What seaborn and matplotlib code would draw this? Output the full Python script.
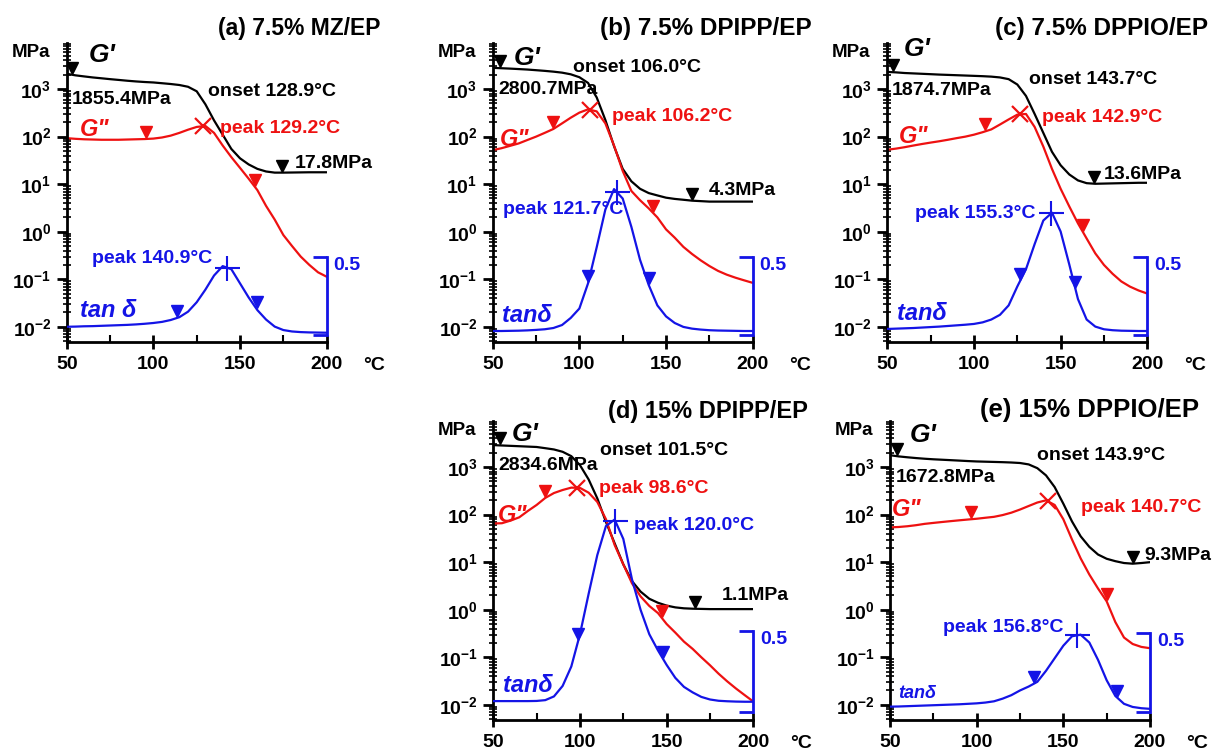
import numpy as np
import matplotlib.pyplot as plt
import seaborn as sns
from matplotlib.ticker import FixedLocator, FixedFormatter, LogLocator, NullFormatter
from matplotlib.transforms import offset_copy

sns.set_style("white")
plt.rcParams['font.family'] = ['Liberation Sans', 'DejaVu Sans']
plt.rcParams['font.weight'] = 'bold'
plt.rcParams['text.color'] = 'black'
plt.rcParams['xtick.color'] = 'black'
plt.rcParams['ytick.color'] = 'black'
plt.rcParams['mathtext.fontset'] = 'custom'
plt.rcParams['mathtext.rm'] = 'Liberation Sans:bold'
plt.rcParams['mathtext.bf'] = 'Liberation Sans:bold'

BLACK, RED, BLUE = '#000000', '#ee1111', '#1414e6'

# temperature grid, degC
temp = list(range(50, 201, 5))

# storage modulus G' (MPa)
a_storage = [2100, 1950, 1850, 1760, 1690, 1620, 1560, 1500, 1450, 1410, 1380, 1330, 1280, 1220, 1120, 900,
             480, 220, 110, 55, 35, 26, 21, 18.5, 17.5, 17.5, 17.6, 17.7, 17.8, 17.8, 17.8]
b_storage = [2800, 2750, 2700, 2640, 2580, 2500, 2420, 2330, 2220, 2050, 1780, 1350, 668, 224, 63, 21,
             11.5, 8.0, 6.5, 5.8, 5.2, 4.9, 4.7, 4.5, 4.4, 4.3, 4.3, 4.3, 4.3, 4.3, 4.3]
c_storage = [2300, 2250, 2180, 2140, 2100, 2060, 2020, 1990, 1960, 1930, 1900, 1870, 1830, 1760, 1620, 1250,
             720, 300, 120, 48, 25, 16, 12, 10.5, 10.2, 10.3, 10.4, 10.5, 10.6, 10.7, 10.7]
d_storage = [2900, 2850, 2800, 2750, 2700, 2650, 2500, 2350, 2100, 1700, 1100, 550, 220, 70, 25, 9.0,
             4.0, 2.4, 1.7, 1.4, 1.22, 1.12, 1.07, 1.05, 1.04, 1.03, 1.03, 1.03, 1.03, 1.03, 1.03]
e_storage = [1780, 1680, 1610, 1550, 1500, 1460, 1430, 1400, 1370, 1340, 1315, 1300, 1285, 1270, 1250, 1220,
             1140, 950, 670, 380, 170, 72, 35, 21, 14.5, 11.8, 10.5, 9.6, 9.3, 9.6, 10.0]

# loss modulus G'' (MPa)
a_loss = [93, 90, 88, 87, 86, 86, 86, 87, 88, 89, 91, 96, 105, 120, 140, 160,
          168, 120, 65, 37, 22, 13, 7.5, 3.5, 1.8, 0.85, 0.5, 0.3, 0.2, 0.14, 0.113]
b_loss = [52, 57, 64, 72, 85, 100, 120, 145, 190, 250, 320, 375, 340, 190, 65, 19,
          7.2, 4.6, 3.1, 2.0, 1.12, 0.75, 0.48, 0.34, 0.25, 0.19, 0.15, 0.125, 0.108, 0.095, 0.084]
c_loss = [53, 56, 60, 65, 70, 75, 80, 86, 93, 100, 110, 124, 142, 180, 230, 290,
          300, 160, 62, 21, 8.0, 3.4, 1.5, 0.72, 0.35, 0.2, 0.13, 0.09, 0.07, 0.058, 0.05]
d_loss = [65, 66, 75, 88, 120, 160, 225, 285, 330, 370, 365, 290, 185, 80, 23, 9.0,
          3.6, 1.9, 1.2, 0.85, 0.50, 0.33, 0.213, 0.15, 0.10, 0.068, 0.045, 0.031, 0.022, 0.016, 0.0117]
e_loss = [54, 55, 57, 60, 64, 67, 70, 73, 76, 79, 82, 86, 90, 98, 110, 128,
          152, 180, 200, 160, 80, 30, 12, 5.5, 2.8, 1.5, 0.55, 0.26, 0.19, 0.165, 0.155]

# tan delta (right axis, linear)
a_tan = [0.054, 0.055, 0.057, 0.058, 0.060, 0.062, 0.064, 0.066, 0.069, 0.073, 0.078, 0.085, 0.097, 0.115, 0.15, 0.21,
         0.29, 0.38, 0.44, 0.42, 0.33, 0.24, 0.16, 0.10, 0.055, 0.033, 0.024, 0.020, 0.018, 0.017, 0.016]
b_tan = [0.027, 0.027, 0.028, 0.029, 0.031, 0.034, 0.038, 0.046, 0.065, 0.11, 0.17, 0.33, 0.56, 0.80, 0.93, 0.87,
         0.69, 0.48, 0.32, 0.19, 0.12, 0.078, 0.053, 0.042, 0.036, 0.032, 0.030, 0.029, 0.028, 0.027, 0.027]
c_tan = [0.040, 0.042, 0.044, 0.046, 0.049, 0.052, 0.055, 0.059, 0.063, 0.067, 0.072, 0.082, 0.10, 0.13, 0.19, 0.31,
         0.42, 0.58, 0.73, 0.78, 0.66, 0.45, 0.23, 0.10, 0.055, 0.038, 0.032, 0.029, 0.028, 0.027, 0.027]
d_tan = [0.066, 0.066, 0.066, 0.066, 0.066, 0.067, 0.072, 0.095, 0.16, 0.28, 0.48, 0.73, 0.97, 1.15, 1.19, 1.07,
         0.82, 0.63, 0.48, 0.38, 0.29, 0.21, 0.154, 0.12, 0.092, 0.076, 0.068, 0.065, 0.063, 0.062, 0.062]
e_tan = [0.032, 0.033, 0.035, 0.037, 0.039, 0.041, 0.043, 0.045, 0.047, 0.050, 0.053, 0.058, 0.066, 0.083, 0.105, 0.135,
         0.16, 0.19, 0.26, 0.34, 0.42, 0.48, 0.49, 0.44, 0.33, 0.20, 0.10, 0.05, 0.03, 0.022, 0.018]

# peak / arrow temperatures
loss_peak_T = [128.8, 106.2, 126.7, 98.2, 141.0]
tan_peak_T = [142.3, 121.5, 144.5, 120.4, 157.6]

FS = 14  # annotation size

panels = [
    dict(title='(a) 7.5% MZ/EP', pos=(66.7, 43), title_pos=(218, 29), title_fs=16.5,
         g1=a_storage, g2=a_loss, tan=a_tan, tan_lim=(-0.043, 1.86),
         arrows=([53, 174], [96, 158.6], [113.5, 159.6]),
         texts=[(62.5, 5250, "G'", BLACK, 19, 'italic'), (52.9, 600, '1855.4MPa', BLACK, FS, 'normal'),
                (131.7, 890, 'onset 128.9°C', BLACK, FS, 'normal'), (57.7, 144, 'G"', RED, 17, 'italic'),
                (138.5, 150, 'peak 129.2°C', RED, FS, 'normal'), (181.7, 27.5, '17.8MPa', BLACK, FS, 'normal'),
                (64.4, 0.275, 'peak 140.9°C', BLUE, FS, 'normal'), (57.7, 0.022, 'tan δ', BLUE, 17, 'italic')]),
    dict(title='(b) 7.5% DPIPP/EP', pos=(492.7, 43), title_pos=(600, 29), title_fs=17.5,
         g1=b_storage, g2=b_loss, tan=b_tan, tan_lim=(-0.043, 1.86),
         arrows=([54, 165], [85, 142.7], [105, 140]),
         texts=[(61.9, 4600, "G'", BLACK, 19, 'italic'), (53.3, 1000, '2800.7MPa', BLACK, FS, 'normal'),
                (96.5, 2850, 'onset 106.0°C', BLACK, FS, 'normal'), (54.2, 89, 'G"', RED, 17, 'italic'),
                (118.7, 263, 'peak 106.2°C', RED, FS, 'normal'), (174.4, 7.4, '4.3MPa', BLACK, FS, 'normal'),
                (56.2, 2.9, 'peak 121.7°C', BLUE, FS, 'normal'), (55.2, 0.0176, 'tanδ', BLUE, 17, 'italic')]),
    dict(title='(c) 7.5% DPPIO/EP', pos=(887.3, 43), title_pos=(995, 29), title_fs=17.5,
         g1=c_storage, g2=c_loss, tan=c_tan, tan_lim=(-0.043, 1.86),
         arrows=([53.5, 169], [106.5, 163], [126.7, 158.5]),
         texts=[(59.3, 6900, "G'", BLACK, 19, 'italic'), (52.5, 955, '1874.7MPa', BLACK, FS, 'normal'),
                (131.5, 1620, 'onset 143.7°C', BLACK, FS, 'normal'), (56.4, 100, 'G"', RED, 17, 'italic'),
                (139.3, 254, 'peak 142.9°C', RED, FS, 'normal'), (174.9, 15.8, '13.6MPa', BLACK, FS, 'normal'),
                (66.0, 2.39, 'peak 155.3°C', BLUE, FS, 'normal'), (55.8, 0.019, 'tanδ', BLUE, 17, 'italic')]),
    dict(title='(d) 15% DPIPP/EP', pos=(493.3, 421), title_pos=(608, 411), title_fs=17,
         g1=d_storage, g2=d_loss, tan=d_tan, tan_lim=(-0.051, 1.80),
         arrows=([54, 166.6], [80, 147.4], [99, 148]),
         texts=[(60.6, 5000, "G'", BLACK, 19, 'italic'), (52.9, 1084, '2834.6MPa', BLACK, FS, 'normal'),
                (111.7, 2230, 'onset 101.5°C', BLACK, FS, 'normal'), (52.9, 97, 'G"', RED, 17, 'italic'),
                (110.7, 363, 'peak 98.6°C', RED, FS, 'normal'), (182.0, 2.03, '1.1MPa', BLACK, FS, 'normal'),
                (131.0, 60, 'peak 120.0°C', BLUE, FS, 'normal'), (55.8, 0.026, 'tanδ', BLUE, 17, 'italic')]),
    dict(title='(e) 15% DPPIO/EP', pos=(890, 421), title_pos=(980, 410), title_fs=18.5,
         g1=e_storage, g2=e_loss, tan=e_tan, tan_lim=(-0.053, 1.85),
         arrows=([54, 190], [97, 175], [133, 181]),
         texts=[(61.6, 4760, "G'", BLACK, 19, 'italic'), (53.5, 607, '1672.8MPa', BLACK, FS, 'normal'),
                (134.8, 1757, 'onset 143.9°C', BLACK, FS, 'normal'), (51.0, 126, 'G"', RED, 17, 'italic'),
                (160.0, 143, 'peak 140.7°C', RED, FS, 'normal'), (196.5, 14, '9.3MPa', BLACK, FS, 'normal'),
                (80.8, 0.42, 'peak 156.8°C', BLUE, FS, 'normal'), (54.8, 0.0174, 'tanδ', BLUE, 13, 'italic')]),
]

W, H = 1213, 750
AX_W, AX_H = 260, 299
fig = plt.figure(figsize=(W / 100, H / 100), dpi=100)

for i, p in enumerate(panels):
    left, top = p['pos']
    ax = fig.add_axes([left / W, 1 - (top + AX_H) / H, AX_W / W, AX_H / H])
    ax2 = ax.twinx()

    sns.lineplot(x=temp, y=p['g1'], ax=ax, color=BLACK, lw=1.6)
    sns.lineplot(x=temp, y=p['g2'], ax=ax, color=RED, lw=1.6)
    sns.lineplot(x=temp, y=p['tan'], ax=ax2, color=BLUE, lw=1.6)

    # peak markers
    lg2 = np.log10(p['g2'])
    ax.plot(loss_peak_T[i], 10 ** np.interp(loss_peak_T[i], temp, lg2), marker='x',
            color=RED, ms=11, mew=1.6)
    ax2.plot(tan_peak_T[i], np.interp(tan_peak_T[i], temp, p['tan']), marker='+',
             color=BLUE, ms=18, mew=1.5)

    # small arrow flags on the curves
    tr1 = offset_copy(ax.transData, fig=fig, y=5, units='points')
    tr2 = offset_copy(ax2.transData, fig=fig, y=5, units='points')
    for t in p['arrows'][0]:
        ax.plot(t, 10 ** np.interp(t, temp, np.log10(p['g1'])), marker='v', color=BLACK, ms=8, transform=tr1)
    for t in p['arrows'][1]:
        ax.plot(t, 10 ** np.interp(t, temp, lg2), marker='v', color=RED, ms=8, transform=tr1)
    for t in p['arrows'][2]:
        ax2.plot(t, np.interp(t, temp, p['tan']), marker='v', color=BLUE, ms=8, transform=tr2)

    # left log axis
    ax.set_yscale('log')
    ax.set_xlim(50, 200)
    ax.set_ylim(10 ** -2.32, 10 ** 3.97)
    ax.yaxis.set_major_locator(FixedLocator([10.0 ** k for k in range(-2, 4)]))
    ax.yaxis.set_major_formatter(FixedFormatter([rf'$\mathbf{{10^{{{k}}}}}$' for k in range(-2, 4)]))
    ax.yaxis.set_minor_locator(LogLocator(base=10, subs=np.arange(2, 10), numticks=30))
    ax.yaxis.set_minor_formatter(NullFormatter())
    ax.set_xticks([50, 100, 150, 200])
    ax.set_xticks([75, 125, 175], minor=True)
    ax.set_xlabel('')
    ax.set_ylabel('')
    ax.tick_params(axis='x', which='major', direction='inout', length=10, width=2,
                   labelsize=14, pad=5, color=BLACK, labelcolor=BLACK)
    ax.tick_params(axis='x', which='minor', direction='in', length=5, width=1.5, color=BLACK)
    ax.tick_params(axis='y', which='major', direction='out', length=7, width=2,
                   labelsize=14, pad=4, color=BLACK, labelcolor=BLACK)
    ax.tick_params(axis='y', which='minor', direction='inout', length=6, width=1.2, color=BLACK)
    ax.tick_params(left=True, bottom=True, which='both')
    for s in ['top', 'right']:
        ax.spines[s].set_visible(False)
    for s in ['left', 'bottom']:
        ax.spines[s].set_color(BLACK)
        ax.spines[s].set_linewidth(2)

    # right tan delta axis: short blue bracket 0 .. 0.5
    ax2.set_ylim(*p['tan_lim'])
    ax2.set_ylabel('')
    for s in ['top', 'left', 'bottom']:
        ax2.spines[s].set_visible(False)
    ax2.spines['right'].set_color(BLUE)
    ax2.spines['right'].set_linewidth(2)
    ax2.spines['right'].set_bounds(0, 0.5)
    ax2.set_yticks([0, 0.5])
    ax2.set_yticklabels(['', '0.5'])
    ax2.tick_params(axis='y', direction='in', length=10, width=2, colors=BLUE,
                    labelsize=14, pad=5, right=True)
    for lab in ax2.get_yticklabels():
        lab.set_va('top')

    # annotations
    for x, y, s, c, fs, st in p['texts']:
        ax.text(x, y, s, color=c, fontsize=fs, fontstyle=st, fontweight='bold', ha='left', va='center')
    ax.text(-0.065, 0.967, 'MPa', transform=ax.transAxes, ha='right', va='center', fontsize=13.5,
            color=BLACK)
    ax.text(1.14, -0.078, '°C', transform=ax.transAxes, ha='left', va='center', fontsize=14, color=BLACK)

    tx, ty = p['title_pos']
    fig.text(tx / W, 1 - ty / H, p['title'], fontsize=p['title_fs'], fontweight='bold',
             ha='left', va='center', color=BLACK)

fig.savefig('out.png', dpi=100, facecolor='white')
